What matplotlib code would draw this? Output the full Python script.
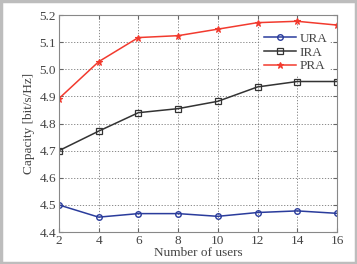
import matplotlib
matplotlib.use("Agg")
import matplotlib.pyplot as plt
from matplotlib.patches import Rectangle

users = [2, 4, 6, 8, 10, 12, 14, 16]
ura = [4.500, 4.455, 4.468, 4.468, 4.458, 4.472, 4.478, 4.469]
ira = [4.700, 4.772, 4.840, 4.855, 4.882, 4.935, 4.955, 4.955]
pra = [4.892, 5.028, 5.117, 5.124, 5.148, 5.172, 5.177, 5.163]
yticks = [4.4, 4.5, 4.6, 4.7, 4.8, 4.9, 5.0, 5.1, 5.2]

plt.rcParams['font.family'] = ['Liberation Serif', 'DejaVu Serif']

fig = plt.figure(figsize=(3.57, 2.64), dpi=100)
fig.patches.append(Rectangle((0.004, 0.004), 0.992, 0.992, transform=fig.transFigure,
                             fill=False, edgecolor='#bdbdbd', linewidth=2.5))
ax = fig.add_axes([0.165, 0.121, 0.779, 0.822])

ax.plot(users, ura, color='#2a3c9c', marker='o', markersize=4, markerfacecolor='none',
        markeredgewidth=1.0, linewidth=1.1, label='URA')
ax.plot(users, ira, color='#333333', marker='s', markersize=4.5, markerfacecolor='none',
        markeredgewidth=0.9, linewidth=1.1, label='IRA')
ax.plot(users, pra, color='#f23a2e', marker='*', markersize=4.5, markeredgewidth=0.8,
        linewidth=1.1, label='PRA')

ax.set_xlim(2, 16)
ax.set_ylim(4.4, 5.2)
ax.set_xticks(users)
ax.set_yticks(yticks)
ax.set_yticklabels([f"{v:.1f}" for v in yticks])
ax.grid(True, linestyle=(0, (1.5, 2)), color='#777777', linewidth=0.6)
ax.tick_params(direction='in', labelsize=9.5, length=3, color='#666666', labelcolor='#444444',
               top=True, right=True, pad=2)
for s in ax.spines.values():
    s.set_color('#888888')
    s.set_linewidth(0.8)
ax.set_xlabel('Number of users', fontsize=9.5, color='#444444', labelpad=0)
ax.set_ylabel('Capacity [bit/s/Hz]', fontsize=9.5, color='#444444', labelpad=3)
leg = ax.legend(loc='upper right', bbox_to_anchor=(0.975, 0.93), frameon=True, fontsize=9.5,
                handlelength=2.4, labelspacing=0.1, handletextpad=0.3, borderaxespad=0.0,
                borderpad=0.2, fancybox=False, edgecolor='none', facecolor='white', framealpha=1)
for t in leg.get_texts():
    t.set_color('#444444')

fig.savefig('out.png', dpi=100)
